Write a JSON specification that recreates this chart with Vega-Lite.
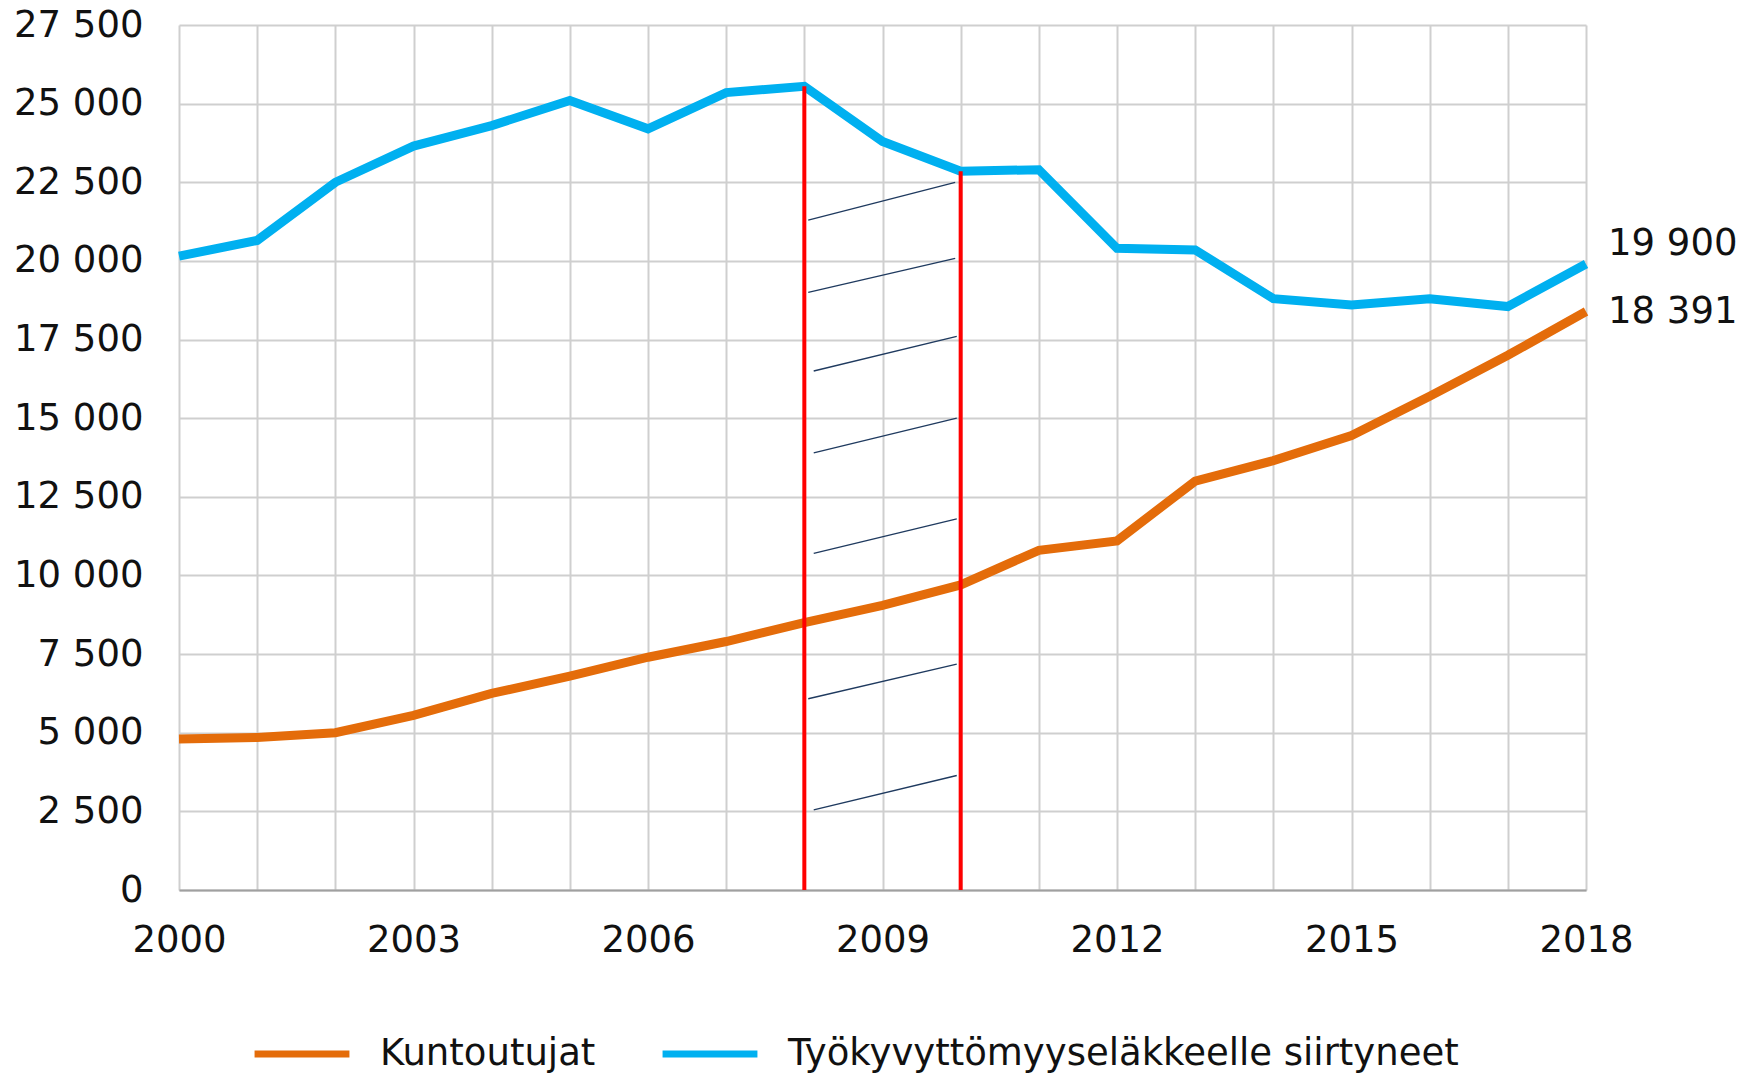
{
  "$schema": "https://vega.github.io/schema/vega-lite/v6.json",
  "autosize": {"type": "none"},
  "width": 1407,
  "height": 865,
  "padding": {"left": 179, "top": 25, "right": 159, "bottom": 184},
  "background": "white",
  "config": {
    "locale": {"number": {"decimal": ",", "thousands": " ", "grouping": [3], "currency": ["", " €"]}},
    "font": "DejaVu Sans",
    "view": {"stroke": null}
  },
  "datasets": {
    "lines": [
      {"year": 2000, "series": "Kuntoutujat", "value": 4800},
      {"year": 2001, "series": "Kuntoutujat", "value": 4850},
      {"year": 2002, "series": "Kuntoutujat", "value": 5000},
      {"year": 2003, "series": "Kuntoutujat", "value": 5550},
      {"year": 2004, "series": "Kuntoutujat", "value": 6250},
      {"year": 2005, "series": "Kuntoutujat", "value": 6800},
      {"year": 2006, "series": "Kuntoutujat", "value": 7400},
      {"year": 2007, "series": "Kuntoutujat", "value": 7900},
      {"year": 2008, "series": "Kuntoutujat", "value": 8500},
      {"year": 2009, "series": "Kuntoutujat", "value": 9050},
      {"year": 2010, "series": "Kuntoutujat", "value": 9700},
      {"year": 2011, "series": "Kuntoutujat", "value": 10800},
      {"year": 2012, "series": "Kuntoutujat", "value": 11100},
      {"year": 2013, "series": "Kuntoutujat", "value": 13000},
      {"year": 2014, "series": "Kuntoutujat", "value": 13650},
      {"year": 2015, "series": "Kuntoutujat", "value": 14450},
      {"year": 2016, "series": "Kuntoutujat", "value": 15700},
      {"year": 2017, "series": "Kuntoutujat", "value": 17000},
      {"year": 2018, "series": "Kuntoutujat", "value": 18391},
      {"year": 2000, "series": "Työkyvyttömyyseläkkeelle siirtyneet", "value": 20150},
      {"year": 2001, "series": "Työkyvyttömyyseläkkeelle siirtyneet", "value": 20650},
      {"year": 2002, "series": "Työkyvyttömyyseläkkeelle siirtyneet", "value": 22500},
      {"year": 2003, "series": "Työkyvyttömyyseläkkeelle siirtyneet", "value": 23650},
      {"year": 2004, "series": "Työkyvyttömyyseläkkeelle siirtyneet", "value": 24300},
      {"year": 2005, "series": "Työkyvyttömyyseläkkeelle siirtyneet", "value": 25100},
      {"year": 2006, "series": "Työkyvyttömyyseläkkeelle siirtyneet", "value": 24200},
      {"year": 2007, "series": "Työkyvyttömyyseläkkeelle siirtyneet", "value": 25350},
      {"year": 2008, "series": "Työkyvyttömyyseläkkeelle siirtyneet", "value": 25550},
      {"year": 2009, "series": "Työkyvyttömyyseläkkeelle siirtyneet", "value": 23800},
      {"year": 2010, "series": "Työkyvyttömyyseläkkeelle siirtyneet", "value": 22850},
      {"year": 2011, "series": "Työkyvyttömyyseläkkeelle siirtyneet", "value": 22900},
      {"year": 2012, "series": "Työkyvyttömyyseläkkeelle siirtyneet", "value": 20400},
      {"year": 2013, "series": "Työkyvyttömyyseläkkeelle siirtyneet", "value": 20350},
      {"year": 2014, "series": "Työkyvyttömyyseläkkeelle siirtyneet", "value": 18800},
      {"year": 2015, "series": "Työkyvyttömyyseläkkeelle siirtyneet", "value": 18600},
      {"year": 2016, "series": "Työkyvyttömyyseläkkeelle siirtyneet", "value": 18800},
      {"year": 2017, "series": "Työkyvyttömyyseläkkeelle siirtyneet", "value": 18550},
      {"year": 2018, "series": "Työkyvyttömyyseläkkeelle siirtyneet", "value": 19900}
    ],
    "redlines": [
      {"year": 2008, "top": 25550},
      {"year": 2010, "top": 22850}
    ],
    "hatch": [
      {"x1": 2008.05, "y1": 21300, "x2": 2009.93, "y2": 22500},
      {"x1": 2008.05, "y1": 19000, "x2": 2009.93, "y2": 20080},
      {"x1": 2008.12, "y1": 16500, "x2": 2009.95, "y2": 17600},
      {"x1": 2008.12, "y1": 13900, "x2": 2009.95, "y2": 15000},
      {"x1": 2008.12, "y1": 10700, "x2": 2009.95, "y2": 11800},
      {"x1": 2008.05, "y1": 6080, "x2": 2009.95, "y2": 7180},
      {"x1": 2008.12, "y1": 2550, "x2": 2009.95, "y2": 3640}
    ]
  },
  "layer": [
    {
      "data": {"name": "lines"},
      "mark": {"type": "line", "strokeWidth": 9, "strokeJoin": "miter"},
      "encoding": {
        "x": {
          "field": "year", "type": "quantitative",
          "scale": {"domain": [2000, 2018], "nice": false, "zero": false},
          "axis": {
            "title": null,
            "values": [2000,2001,2002,2003,2004,2005,2006,2007,2008,2009,2010,2011,2012,2013,2014,2015,2016,2017,2018],
            "labelExpr": "(datum.value - 2000) % 3 == 0 ? '' + datum.value : ''",
            "labelFontSize": 37, "labelColor": "#111111", "labelPadding": 32,
            "labelFlush": false, "labelOverlap": false,
            "ticks": false,
            "grid": true, "gridColor": "#CFCFCF", "gridWidth": 2,
            "domain": true, "domainColor": "#A0A0A0", "domainWidth": 2
          }
        },
        "y": {
          "field": "value", "type": "quantitative",
          "scale": {"domain": [0, 27500], "nice": false},
          "axis": {
            "title": null,
            "values": [0,2500,5000,7500,10000,12500,15000,17500,20000,22500,25000,27500],
            "labelExpr": "replace(format(datum.value, ','), ',', ' ')",
            "labelFontSize": 37, "labelColor": "#111111", "labelPadding": 36,
            "ticks": false, "domain": false,
            "grid": true, "gridColor": "#CFCFCF", "gridWidth": 2
          }
        },
        "color": {
          "field": "series", "type": "nominal",
          "scale": {"domain": ["Kuntoutujat", "Työkyvyttömyyseläkkeelle siirtyneet"], "range": ["#E46C0A", "#00B0F0"]},
          "legend": {
            "title": null, "orient": "none", "direction": "horizontal",
            "legendX": 72, "legendY": 978,
            "symbolType": "stroke", "symbolSize": 9000, "symbolStrokeWidth": 7,
            "labelFontSize": 37, "labelColor": "#111111", "labelOffset": 27,
            "columnPadding": 52, "labelLimit": 1000
          }
        }
      }
    },
    {
      "data": {"name": "redlines"},
      "mark": {"type": "rule", "color": "#FF0000", "strokeWidth": 4},
      "encoding": {
        "x": {"field": "year", "type": "quantitative"},
        "y": {"field": "top", "type": "quantitative"},
        "y2": {"datum": 0}
      }
    },
    {
      "data": {"name": "hatch"},
      "mark": {"type": "rule", "color": "#1F3A5F", "strokeWidth": 1.3},
      "encoding": {
        "x": {"field": "x1", "type": "quantitative"},
        "x2": {"field": "x2"},
        "y": {"field": "y1", "type": "quantitative"},
        "y2": {"field": "y2"}
      }
    },
    {
      "data": {"name": "lines"},
      "transform": [{"filter": "datum.year == 2018 && datum.series == 'Kuntoutujat'"}],
      "mark": {"type": "text", "align": "left", "baseline": "middle", "dx": 22, "fontSize": 37, "color": "#111111"},
      "encoding": {
        "x": {"field": "year", "type": "quantitative"},
        "y": {"field": "value", "type": "quantitative"},
        "text": {"field": "value", "type": "quantitative", "format": ","}
      }
    },
    {
      "data": {"name": "lines"},
      "transform": [{"filter": "datum.year == 2018 && datum.series != 'Kuntoutujat'"}],
      "mark": {"type": "text", "align": "left", "baseline": "middle", "dx": 22, "dy": -20, "fontSize": 37, "color": "#111111"},
      "encoding": {
        "x": {"field": "year", "type": "quantitative"},
        "y": {"field": "value", "type": "quantitative"},
        "text": {"field": "value", "type": "quantitative", "format": ","}
      }
    }
  ]
}
